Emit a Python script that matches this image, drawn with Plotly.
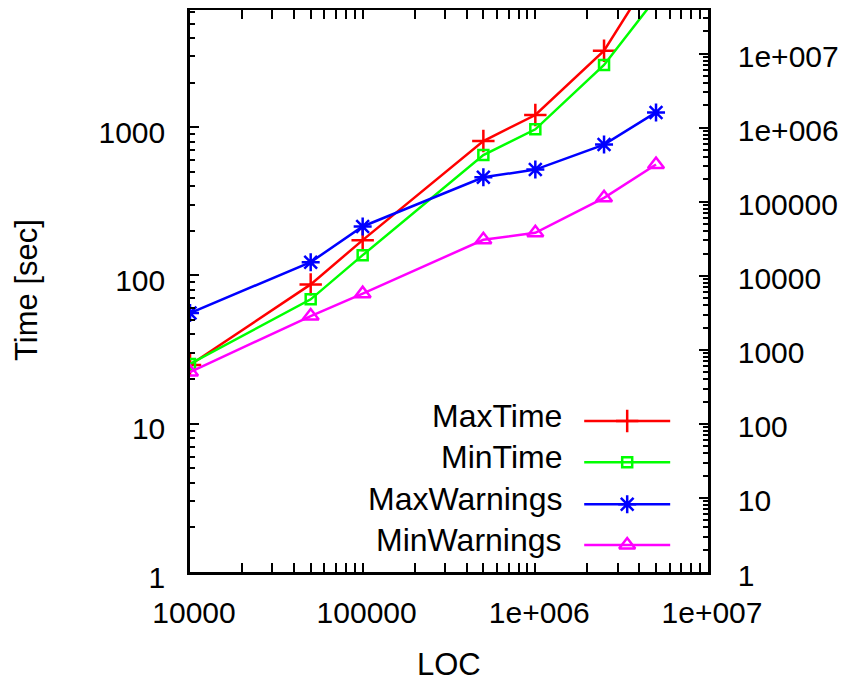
import plotly.graph_objects as go

# ---- data ----
loc = [10000, 50000, 100000, 500000, 1000000, 2500000, 5000000]
max_time = [24.9, 87, 173, 806, 1207, 3275, 11800]
min_time = [25.3, 69, 137, 648, 967, 2624, 7430]
max_warnings = [3140, 15300, 46400, 214000, 272000, 592000, 1610000]
min_warnings = [502, 2860, 5740, 30700, 38100, 113000, 318000]

series_names = ["MaxTime", "MinTime", "MaxWarnings", "MinWarnings"]
series_colors = ["#ff0000", "#00ff00", "#0000ff", "#ff00ff"]
series_symbols = ["cross-thin-open", "square-open", "asterisk-open", "triangle-up-open"]
series_sizes = [16, 10, 15, 14]
series_axis = ["y", "y", "y2", "y2"]
series_values = [max_time, min_time, max_warnings, min_warnings]

x_tickvals = [1e4, 1e5, 1e6, 1e7]
x_ticktext = ["10000", "100000", "1e+006", "1e+007"]
y_tickvals = [1, 10, 100, 1000]
y_ticktext = ["1", "10", "100", "1000"]
y2_tickvals = [1, 10, 100, 1000, 1e4, 1e5, 1e6, 1e7]
y2_ticktext = ["1", "10", "100", "1000", "10000", "100000", "1e+006", "1e+007"]

# legend key placement (paper fractions)
legend_rows = [0.2687, 0.1952, 0.1205, 0.048]
legend_line_x = [0.761, 0.844, 0.927]
legend_text_x = 0.722

FONT = "Liberation Sans, Arial, Helvetica, sans-serif"
LW = 2.5

fig = go.Figure()

for name, vals, col, sym, sz, ax in zip(series_names, series_values, series_colors,
                                          series_symbols, series_sizes, series_axis):
    fig.add_trace(go.Scatter(
        x=loc, y=vals, name=name, mode="lines+markers", yaxis=ax,
        line=dict(color=col, width=LW),
        marker=dict(symbol=sym, size=sz, color=col, line=dict(color=col, width=LW)),
        showlegend=False,
    ))

# manual legend keys (text on the left, key on the right, as in gnuplot)
for name, col, sym, sz, row in zip(series_names, series_colors, series_symbols,
                                   series_sizes, legend_rows):
    fig.add_trace(go.Scatter(
        x=legend_line_x, y=[row] * 3, xaxis="x3", yaxis="y3",
        mode="lines+markers", showlegend=False, hoverinfo="skip",
        line=dict(color=col, width=LW),
        marker=dict(symbol=sym, size=sz, color=col, opacity=[0, 1, 0],
                    line=dict(color=col, width=LW)),
    ))
    fig.add_annotation(x=legend_text_x, y=row, xref="paper", yref="paper",
                       text=name, showarrow=False, xanchor="right", yanchor="middle",
                       yshift=5, font=dict(size=32, color="black", family=FONT))

axis_common = dict(
    type="log", showline=True, linecolor="black", linewidth=2.5,
    ticks="inside", ticklen=9, tickwidth=1.5, tickcolor="black",
    showgrid=False, zeroline=False, automargin=False,
    tickfont=dict(size=30, color="black", family=FONT),
    minor=dict(ticks="inside", ticklen=5, tickwidth=1.5, tickcolor="black",
               dtick="D1", showgrid=False),
)

# the page body adds an 8px offset, so the figure is 8px smaller on each axis
fig.update_layout(
    width=840, height=676,
    margin=dict(l=182, r=140, t=2, b=112, autoexpand=False),
    paper_bgcolor="white", plot_bgcolor="white",
    font=dict(family=FONT, color="black"),
    xaxis=dict(**axis_common, range=[4, 7], tickmode="array",
               tickvals=x_tickvals, ticktext=x_ticktext, mirror="allticks",
               ticklabelstandoff=12, ticklabelshift=4),
    yaxis=dict(**axis_common, range=[0, 3.79], tickmode="array",
               tickvals=y_tickvals, ticktext=y_ticktext,
               ticklabelstandoff=16, ticklabelshift=5),
    yaxis2=dict(**axis_common, range=[0, 7.59], tickmode="array",
                tickvals=y2_tickvals, ticktext=y2_ticktext, overlaying="y",
                side="right", ticklabelstandoff=21, ticklabelshift=3),
    xaxis3=dict(overlaying="x", range=[0, 1], visible=False, anchor="y3"),
    yaxis3=dict(overlaying="y", range=[0, 1], visible=False, anchor="x3"),
)

fig.add_annotation(x=0.5, y=-0.1708, xref="paper", yref="paper", text="LOC",
                   showarrow=False, xanchor="center", yanchor="middle", yshift=3,
                   font=dict(size=31, color="black", family=FONT))
fig.add_annotation(x=-0.3147, y=0.5018, xref="paper", yref="paper", text="Time [sec]",
                   showarrow=False, xanchor="center", yanchor="middle", textangle=-90,
                   font=dict(size=31, color="black", family=FONT))

fig.write_html("out.html")
